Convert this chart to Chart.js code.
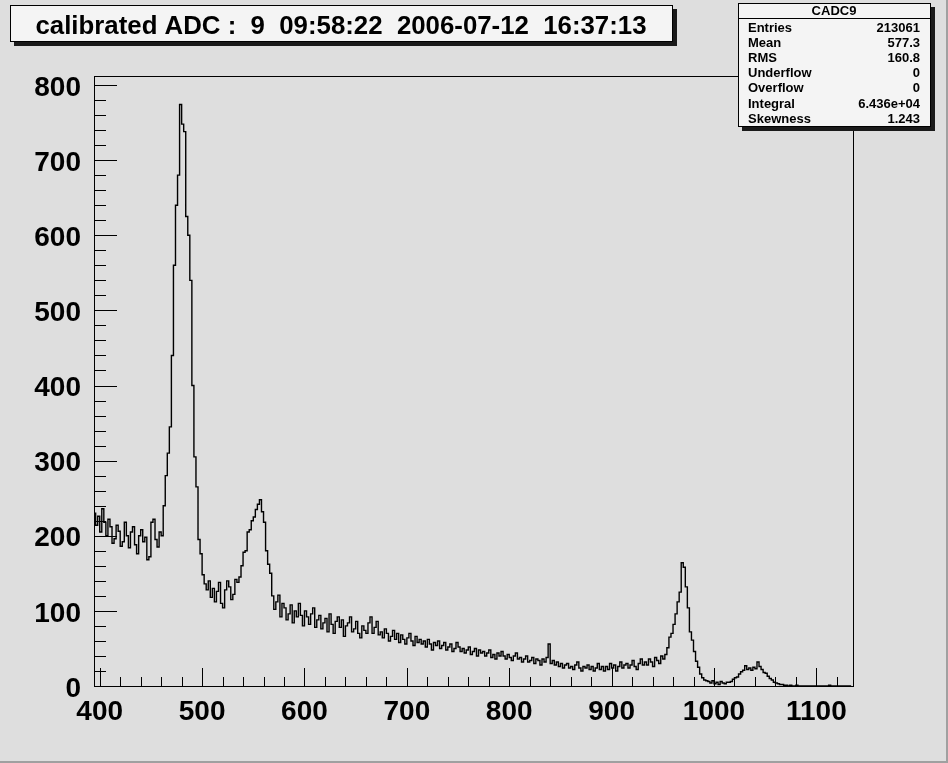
<!DOCTYPE html>
<html>
<head>
<meta charset="utf-8">
<script src="https://cdn.jsdelivr.net/npm/chart.js@4.4.0/dist/chart.umd.min.js"></script>
<style>
  html, body { margin: 0; padding: 0; background: #dedede; overflow: hidden; }
</style>
</head>
<body>
<canvas id="c" width="948" height="763"></canvas>
<script>
'use strict'

// histogram CADC9: one row = 10 bins of width 2, first bin starts at 394
const binStart = 394;
const binWidth = 2;
const counts = [
    230, 214, 226, 205, 236, 218, 200, 222, 212, 190,
    196, 214, 206, 186, 192, 218, 200, 184, 205, 212,
    188, 176, 200, 208, 192, 198, 168, 172, 218, 222,
    195, 185, 205, 200, 240, 280, 310, 345, 440, 560,
    640, 680, 774, 748, 738, 625, 600, 540, 400, 305,
    265, 195, 176, 148, 136, 128, 140, 118, 130, 112,
    126, 138, 110, 104, 128, 140, 132, 115, 122, 142,
    138, 145, 160, 178, 180, 205, 208, 220, 225, 235,
    242, 248, 232, 218, 180, 162, 150, 120, 102, 112,
    121, 92, 110, 104, 88, 96, 108, 84, 100, 92,
    110, 94, 80, 100, 92, 82, 96, 104, 78, 88,
    94, 76, 84, 90, 72, 96, 82, 70, 86, 92,
    78, 88, 66, 80, 84, 92, 72, 76, 86, 70,
    64, 80, 74, 70, 84, 92, 70, 78, 86, 68,
    72, 64, 76, 70, 60, 66, 74, 62, 70, 58,
    68, 62, 56, 64, 70, 60, 54, 66, 58, 62,
    56, 60, 52, 62, 56, 48, 58, 54, 60, 50,
    54, 58, 48, 52, 56, 46, 50, 58, 52, 46,
    50, 44, 48, 52, 42, 46, 50, 40, 48, 44,
    46, 40, 44, 48, 38, 42, 36, 44, 40, 46,
    40, 36, 42, 38, 34, 40, 44, 36, 38, 32,
    36, 40, 32, 34, 38, 30, 36, 34, 28, 36,
    32, 38, 56, 30, 34, 28, 32, 26, 30, 24,
    28, 30, 24, 26, 22, 28, 32, 24, 20, 26,
    24, 28, 22, 26, 20, 24, 30, 22, 26, 20,
    26, 22, 30, 24, 28, 20, 26, 32, 24, 28,
    30, 24, 28, 34, 26, 22, 30, 36, 28, 32,
    28, 36, 32, 26, 38, 34, 30, 40, 36, 42,
    51, 65, 70, 82, 96, 112, 125, 164, 158, 132,
    104, 72, 61, 46, 33, 25, 16, 11, 8, 7,
    6, 4, 7, 3, 5, 2, 6, 4, 3, 5,
    5, 6, 9, 11, 12, 16, 19, 21, 27, 22,
    24, 21, 25, 23, 32, 26, 22, 18, 17, 13,
    10, 8, 5, 4, 3, 2, 2, 1, 1, 0,
    1, 0, 0, 1, 0, 0, 0, 0, 0, 0,
    0, 0, 0, 0, 0, 0, 0, 0, 0, 1,
    0, 0, 0, 0, 0, 0, 0, 0, 0, 0
];

const xRange = [394.4, 1135.8];
const yRange = [0, 812];
const xTicks = [400, 500, 600, 700, 800, 900, 1000, 1100];
const yTicks = [0, 100, 200, 300, 400, 500, 600, 700, 800];
const minorStep = 20;

const title = 'calibrated ADC :  9  09:58:22  2006-07-12  16:37:13';
const statsTitle = 'CADC9';
const statNames = ['Entries', 'Mean', 'RMS', 'Underflow', 'Overflow', 'Integral', 'Skewness'];
const statValues = ['213061', '577.3', '160.8', '0', '0', '6.436e+04', '1.243'];

const FONT = '"Liberation Sans", Arial, Helvetica, sans-serif';
const BG = '#dedede';

// step outline points: lower edge of each bin, plus the last upper edge
let points = counts.map((c, i) => ({x: binStart + i * binWidth, y: c}));
points.push({x: binStart + counts.length * binWidth, y: counts[counts.length - 1]});


function boldText(ctx, text, x, y, size, width, align) {
    ctx.save();
    ctx.font = `bold ${size}px ${FONT}`;
    let k = 1;
    if (width) {
        k = width / ctx.measureText(text).width;
    };
    ctx.translate(x, y);
    ctx.scale(k, 1);
    ctx.textAlign = align;
    ctx.textBaseline = 'middle';
    ctx.fillStyle = '#000';
    ctx.fillText(text, 0, 0);
    ctx.restore();
};


function shadowBox(ctx, x, y, w, h) {
    ctx.fillStyle = '#1a1a1a';
    ctx.fillRect(x + 4, y + 4, w, h);
    ctx.fillStyle = '#f4f4f4';
    ctx.fillRect(x, y, w, h);
    ctx.strokeStyle = '#000';
    ctx.lineWidth = 1;
    ctx.strokeRect(x + 0.5, y + 0.5, w - 1, h - 1);
};


const rootStyle = {
    id: 'rootStyle',
    beforeDraw(chart) {
        const ctx = chart.ctx;
        ctx.save();
        ctx.fillStyle = BG;
        ctx.fillRect(0, 0, chart.width, chart.height);
        ctx.fillStyle = '#a0a0a0';
        ctx.fillRect(0, chart.height - 2, chart.width, 2);
        ctx.fillRect(chart.width - 2, 0, 2, chart.height);
        ctx.restore();
    },
    afterDatasetsDraw(chart) {
        const ctx = chart.ctx;
        const a = chart.chartArea;
        const x = chart.scales.x;
        const y = chart.scales.y;

        ctx.save();
        ctx.strokeStyle = '#000';
        ctx.lineWidth = 1;
        ctx.beginPath();
        for (let v = yRange[0]; v <= yRange[1]; v += minorStep) {
            const py = Math.round(y.getPixelForValue(v)) + 0.5;
            const len = v % 100 === 0 ? 23 : 12;
            ctx.moveTo(a.left, py);
            ctx.lineTo(a.left + len, py);
        };
        for (let v = xTicks[0]; v <= xRange[1]; v += minorStep) {
            const px = Math.round(x.getPixelForValue(v)) + 0.5;
            const len = v % 100 === 0 ? 18 : 9;
            ctx.moveTo(px, a.bottom);
            ctx.lineTo(px, a.bottom - len);
        };
        ctx.stroke();
        ctx.strokeRect(Math.round(a.left) + 0.5, Math.round(a.top) + 0.5,
            Math.round(a.right - a.left), Math.round(a.bottom - a.top));
        ctx.restore();
    },
    afterDraw(chart) {
        const ctx = chart.ctx;
        ctx.save();

        // title box
        shadowBox(ctx, 10, 5, 663, 37);
        boldText(ctx, title, 341, 27, 25, 611, 'center');

        // stats box
        shadowBox(ctx, 738, 3, 193, 124);
        ctx.strokeStyle = '#000';
        ctx.beginPath();
        ctx.moveTo(738, 18.5);
        ctx.lineTo(931, 18.5);
        ctx.stroke();
        boldText(ctx, statsTitle, 834, 11, 13, 0, 'center');
        statNames.forEach((name, i) => {
            const ry = 28 + i * 15.2;
            boldText(ctx, name, 748, ry, 13, 0, 'left');
            boldText(ctx, statValues[i], 920, ry, 13, 0, 'right');
        });
        ctx.restore();
    }
};


const ctx = document.getElementById('c').getContext('2d');

const histChart = new Chart(ctx, {
    type: 'line',
    data: {
        datasets: [{
            data: points,
            stepped: 'before',
            borderColor: '#000',
            borderWidth: 1.4,
            pointRadius: 0,
            fill: false,
            tension: 0
        }]
    },
    options: {
        responsive: false,
        animation: false,
        events: [],
        layout: {
            padding: {top: 76, right: 95, left: 0, bottom: 0}
        },
        plugins: {
            legend: {display: false},
            tooltip: {enabled: false}
        },
        scales: {
            x: {
                type: 'linear',
                min: xRange[0],
                max: xRange[1],
                grid: {display: false},
                border: {display: false},
                afterFit: (s) => { s.height = 77; },
                afterBuildTicks: (s) => { s.ticks = xTicks.map((v) => ({value: v})); },
                ticks: {
                    autoSkip: false,
                    maxRotation: 0,
                    padding: 1,
                    color: '#000',
                    font: {family: FONT, size: 28, weight: 'bold', lineHeight: 1.2},
                    callback: (v) => String(v)
                }
            },
            y: {
                type: 'linear',
                min: yRange[0],
                max: yRange[1],
                grid: {display: false},
                border: {display: false},
                afterFit: (s) => { s.width = 94; },
                afterBuildTicks: (s) => { s.ticks = yTicks.map((v) => ({value: v})); },
                ticks: {
                    autoSkip: false,
                    padding: 5,
                    labelOffset: 3,
                    color: '#000',
                    font: {family: FONT, size: 28, weight: 'bold'},
                    callback: (v) => String(v)
                }
            }
        }
    },
    plugins: [rootStyle]
});
</script>
</body>
</html>
